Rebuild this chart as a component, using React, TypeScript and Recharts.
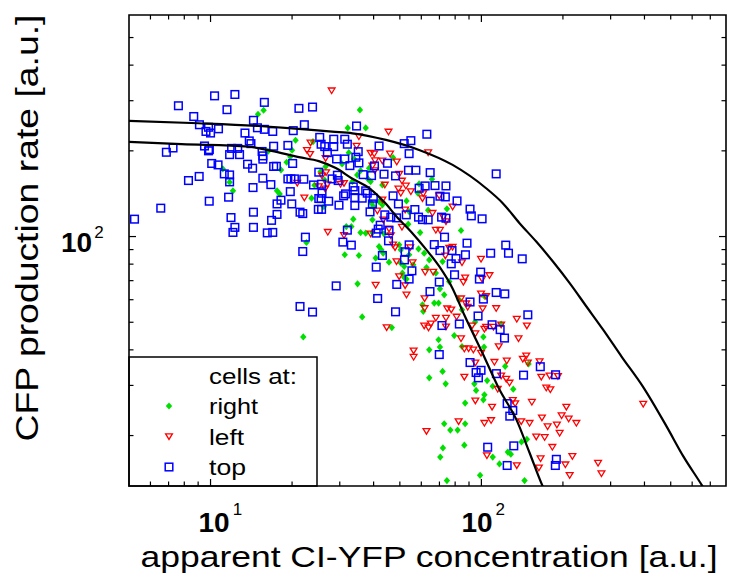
import { ScatterChart, Scatter, XAxis, YAxis, ReferenceArea } from "recharts";

// cells at: right (green diamonds)
const rightX = [14.97, 15.7, 20.6, 20.0, 19.7, 19.1, 18.2, 16.3, 11.1, 11.76, 12.1, 17.6, 18.0, 23.6, 23.9, 25.5, 24.2, 26.4, 35.6, 32.1, 37.4, 32.4, 30.6, 33.9, 34.8, 35.8, 38.5, 47.2, 33.4, 38.2, 39.0, 43.1, 58.9, 58.3, 65.7, 41.9, 43.1, 52.9, 54.1, 63.6, 74.6, 39.3, 39.9, 39.6, 33.65, 33.1, 35.8, 53.7, 59.4, 84.1, 26.6, 37.4, 39.6, 43.7, 41.9, 42.7, 43.4, 49.7, 50.4, 54.1, 58.6, 61.5, 31.3, 35.3, 40.7, 45.6, 50.4, 51.9, 56.0, 64.2, 71.9, 51.1, 51.9, 52.9, 62.7, 67.9, 76.1, 34.9, 70.3, 72.9, 67.0, 69.5, 60.6, 82.9, 61.0, 36.3, 46.7, 84.8, 94.8, 118.3, 102.8, 64.2, 69.5, 70.3, 79.4, 84.8, 101.7, 102.3, 71.9, 64.2, 73.8, 94.2, 95.6, 105, 110.1, 122.4, 149.3, 131.1, 102.6, 101.7, 87.1, 72.9, 76.8, 81.7, 87.1, 86.5, 72.1, 70.5, 110.1, 116.6, 125.2, 128.4, 140.6, 147.2, 98.9, 144.3, 74.6, 22.6, 26.2, 31.7, 22.0];
const rightY = [268.9, 277.7, 217.9, 201, 190.8, 182.4, 171.4, 199.3, 172.8, 155.2, 144.7, 144.7, 141.2, 136.4, 215.4, 169.1, 151.5, 157.7, 278.4, 240.7, 240.7, 197.1, 179.9, 187.3, 164.6, 170.4, 173.8, 189.3, 156, 159, 156, 151.8, 153.1, 142, 159, 132.7, 129.2, 133.4, 122.4, 123.8, 125.1, 131, 127.4, 114.5, 115.1, 108.4, 103.3, 110.5, 103.3, 105, 176.1, 102.8, 103.3, 102.2, 92.2, 89.8, 87.4, 93.5, 89.8, 86.3, 90.5, 87.4, 86.3, 85.8, 84, 81.3, 80.7, 78.5, 79.6, 82.8, 81.7, 74.4, 71.8, 70.9, 77.8, 74.4, 69.5, 68.2, 65.5, 62.4, 58.4, 58.4, 57.6, 59.9, 54.6, 52.2, 47.9, 55.3, 50.1, 49.3, 61.6, 40, 43.4, 40.9, 44.9, 41.1, 44.4, 40.9, 33.6, 31.9, 30.4, 30.4, 28.8, 31.2, 29.8, 35, 35.7, 29.1, 27.8, 26.7, 26, 22, 20.9, 20.9, 22, 18.5, 18.1, 16.8, 16.8, 15.9, 17.5, 17.2, 19, 19.4, 14.5, 13.9, 13.9, 95.3, 127.4, 108.4, 44.4];

// cells at: left (red triangles)
const leftX = [28.0, 45.4, 35.3, 34.6, 39.0, 40.2, 46.0, 48.7, 63.6, 40.5, 43.1, 39.6, 40.4, 49.7, 50.9, 52.6, 44.0, 49.4, 50.4, 54.9, 61.0, 60.6, 69.9, 78.3, 26.7, 25.8, 27.0, 30.2, 31.1, 43.1, 52.3, 41.3, 43.4, 45.6, 50.9, 66.0, 72.3, 74.0, 67.9, 70.3, 27.1, 39.0, 23.4, 22.7, 23.3, 26.6, 20.9, 22.2, 25.1, 26.5, 31.1, 46.3, 48.0, 54.6, 47.2, 76.1, 78.3, 73.6, 84.8, 99.7, 48.6, 55.7, 40.7, 49.7, 52.3, 52.9, 62.0, 66.4, 87.1, 85.8, 100.6, 107.1, 61.7, 61.7, 74.8, 77.4, 84.1, 87.8, 89.0, 99.7, 104.1, 113.4, 101.1, 67.9, 74.0, 63.8, 81.0, 104.1, 110.8, 135.1, 44.7, 74.0, 61.5, 65.1, 92.4, 95.0, 102.6, 118.3, 147.2, 84.1, 86.5, 89.7, 93.4, 99.7, 115.9, 137.1, 56.2, 56.2, 95.0, 111.7, 124.1, 146.4, 142.2, 148.4, 164.0, 118.3, 123.5, 86.5, 127.0, 166.4, 178.6, 191.7, 173.6, 179.7, 114.9, 95.0, 109.5, 130.6, 133.3, 153.6, 205.9, 197.8, 210, 224.2, 167.3, 190, 175.6, 194.5, 82.4, 102.6, 108.6, 140.3, 150.6, 62.7, 159.4, 171.2, 182.8, 216.7, 165.4, 204.2, 163, 135.1, 104.8, 269.6, 277.5, 211.8, 395.8];
const leftY = [325.3, 233, 224.3, 208, 196.2, 195.1, 195.1, 182.9, 197.1, 184.8, 184.4, 177, 170.4, 165.6, 156.8, 150.6, 151.8, 147, 142, 143.8, 141.5, 136, 139, 127.1, 167.7, 163.3, 152.2, 152.7, 153.9, 134.5, 124.1, 123.1, 114.5, 106.4, 107.9, 120.8, 117, 112.9, 105.3, 105.3, 103.6, 102.2, 213.5, 201, 194.6, 188.4, 154.1, 136.7, 149.7, 147, 101, 100.8, 91.5, 91.5, 93.5, 91.1, 91.8, 85.6, 81, 83.3, 81.7, 81, 67.5, 72.4, 67.3, 62.4, 75, 75, 71.6, 69.2, 70.9, 73, 60.6, 55.9, 55.8, 55.3, 60.5, 58.1, 56.5, 62.9, 61.6, 55.9, 55.8, 51.7, 51.7, 47.8, 52.2, 48.1, 48.1, 51.3, 47.9, 48.2, 48.6, 49.4, 48.6, 45.6, 47.3, 49, 48.6, 43.8, 40.3, 40.4, 40, 39, 41.1, 43.8, 39.7, 37.7, 36, 36.2, 36.6, 38.1, 37.1, 36, 36.4, 32.4, 31.6, 32.1, 30.6, 32.1, 32.4, 32.3, 29.4, 29, 29.1, 26.5, 25.2, 26.6, 25.9, 26.2, 25.2, 23.5, 22.9, 22.1, 23.1, 21.8, 21.5, 20.4, 22.4, 22.1, 22.6, 22.4, 22.1, 20.7, 19.8, 19.7, 18.2, 16.9, 16.6, 15.8, 15.4, 15.7, 17, 16, 14.7, 14.5, 25.8];

// cells at: top (blue squares)
const topX = [7.61, 10.35, 12.3, 15.8, 8.67, 11.5, 14.4, 21.2, 23.8, 9.1, 9.83, 10.7, 9.62, 10.0, 13.4, 14.9, 15.8, 16.97, 20.2, 22.2, 25.3, 25.6, 6.87, 7.27, 9.5, 9.9, 9.83, 11.76, 11.96, 12.8, 12.6, 13.9, 14.1, 15.5, 15.6, 15.6, 17.1, 19.3, 10.1, 10.66, 11.24, 11.76, 11.76, 13.7, 14.3, 17.1, 17.5, 20.1, 19.3, 19.8, 20.4, 22.1, 15.6, 16.7, 14.35, 19.7, 24.0, 25.8, 25.1, 25.6, 8.29, 9.08, 9.89, 11.66, 6.55, 5.24, 14.4, 17.6, 18.2, 17.6, 19.95, 21.4, 21.9, 25.0, 25.7, 11.9, 16.8, 12.3, 12.1, 14.4, 16.2, 16.97, 22.4, 21.9, 29.8, 30.8, 31.5, 29.1, 21.4, 23.8, 34.6, 28.5, 31.3, 32.0, 26.4, 28.5, 41.9, 51.9, 54.9, 62.9, 54.1, 35.1, 34.4, 27.0, 29.2, 31.3, 32.7, 35.3, 45.0, 40.3, 43.7, 48.2, 53.8, 57.3, 64.7, 113.4, 25.1, 29.4, 28.1, 36.6, 39.3, 25.7, 29.6, 33.65, 34.1, 37.4, 37.9, 31.0, 34.1, 36.3, 39.9, 47.2, 49.4, 27.3, 34.1, 38.8, 39.6, 44.0, 46.3, 48.6, 52.8, 56.8, 62.0, 58.9, 67.4, 74.0, 70.3, 64.7, 73.6, 81.3, 58.6, 60.6, 63.6, 71.3, 74.0, 90.8, 91.8, 100.6, 42.3, 41.6, 45.6, 32.0, 33.1, 40.9, 45.4, 54.1, 52.3, 52.0, 43.1, 40.9, 55.4, 54.1, 48.7, 41.4, 48.2, 64.6, 67.0, 73.1, 70.3, 77.9, 77.4, 80.6, 79.6, 69.9, 88.5, 87.3, 99.4, 98.3, 108.2, 123.0, 125.9, 113.4, 122.0, 101.7, 90.8, 97.2, 82.9, 109.5, 71.5, 117.3, 121.7, 69.9, 90.8, 95.6, 99.7, 97.5, 113.6, 143.1, 165.0, 187.9, 124.5, 130.6, 127.3, 105.5, 131.7, 124.5, 189.1, 187.5, 141.5, 148.4];
const topY = [288, 312, 315.5, 296, 264, 279, 256, 282, 285, 247, 242, 239, 234, 231, 231, 241, 238, 234, 235.5, 247, 223, 211, 197.7, 204.7, 208, 202, 200, 194, 204, 194, 204, 216.7, 212, 199, 192, 187, 207.6, 209, 180.6, 178.5, 166, 164.6, 155.6, 179.5, 173.8, 176.3, 176.5, 180.6, 159.4, 159.4, 159.4, 159, 160.3, 152.2, 148.6, 143.8, 151.8, 142, 136, 136, 157.3, 162.6, 133.1, 137.5, 125.8, 115.1, 121.8, 130.2, 134.2, 119.6, 130.2, 121.8, 120.4, 124.6, 124.6, 116.6, 114, 107.7, 103.4, 107.7, 103, 103.4, 99.5, 88.6, 128.9, 95.6, 141.2, 67.1, 56.8, 54.3, 244.5, 219.7, 219.7, 211, 207, 207, 208, 212, 217.2, 228.8, 195.5, 198.7, 189.9, 197.1, 187.3, 187.3, 177.5, 181.4, 180.9, 177, 165.6, 163.3, 171, 171, 167.7, 166, 168.3, 164.2, 159.4, 165, 163.7, 152.7, 157.3, 149.4, 145, 144.7, 142, 139, 137, 136.4, 136.4, 139, 130.2, 133.1, 128.5, 122.1, 130.2, 119.2, 117, 116.3, 119.2, 124.4, 150.6, 147.8, 151, 150.6, 138.6, 133.1, 137.8, 133.4, 117, 114.7, 114.5, 117, 116, 124.8, 118.2, 115.4, 109.6, 106.2, 105, 105.3, 93.3, 102.8, 96.6, 93.5, 88.4, 82.8, 85.8, 78.1, 75.8, 70.9, 67.9, 60.6, 54.4, 64.1, 93.7, 99.5, 89.3, 89.3, 80.2, 83.7, 73.4, 69.2, 94.8, 86.3, 75, 70.9, 87.4, 93.3, 87.4, 63.6, 62.9, 60.3, 58.9, 52.6, 49.3, 49, 48.7, 47.1, 44, 38.5, 36.1, 33.3, 33.9, 31.9, 33, 32.6, 34.9, 32.7, 25.9, 24.5, 23.4, 18.2, 18.4, 15.7, 16.5, 15.7, 83.5, 53.1];

// fitted curves
const upperX = [5, 9.03, 15.1, 20.0, 28.1, 33.4, 44.4, 58.9, 78.3, 104.1, 119.9, 138.3, 159.4, 183.7, 211.8, 244.2, 281.4, 329.2, 395.8, 483.2, 556.7, 651.2, 698.9];
const upperY = [254.7, 250, 244.5, 240, 233.5, 230.5, 218.5, 201.5, 178.5, 147.8, 131, 111.4, 96, 81.7, 68.6, 56.8, 47.1, 37.9, 29.6, 21.5, 16.9, 13.4, 12.0];
const lowerX = [5, 7.81, 13.8, 16.8, 21.2, 25.1, 29.0, 33.3, 38.5, 44.5, 48.4, 55.0, 62.6, 69.9, 78.1, 86.5, 100.9, 116.6, 134.8, 150.6, 168.2, 175.6];
const lowerY = [215, 211, 207, 200, 190, 184, 174, 160, 148, 130, 118, 104, 90, 78.5, 66, 53, 39, 29, 22.7, 17.4, 13.3, 12.2];

const xTicks = [6, 7, 8, 9, 10, 20, 30, 40, 50, 60, 70, 80, 90, 100, 200, 300, 400, 500, 600, 700];
const yTicks = [20, 30, 40, 50, 60, 70, 80, 90, 100, 200, 300, 400, 500];
const xTickExp: Record<number, string> = { 10: "1", 100: "2" };
const yTickExp: Record<number, string> = { 100: "2" };

const legendItems = ["right", "left", "top"];

const FONT = "'Liberation Sans', Arial, Helvetica, sans-serif";
const PLOT = { left: 129, right: 726, top: 15, bottom: 486 };

const zip = (xs: number[], ys: number[]) => xs.map((x, i) => ({ x, y: ys[i] }));

const Diamond = ({ cx, cy }: any) => (
  <polygon
    points={`${cx},${cy - 3.6} ${cx + 3.2},${cy} ${cx},${cy + 3.6} ${cx - 3.2},${cy}`}
    fill="#00e000"
  />
);

const Triangle = ({ cx, cy }: any) => (
  <polygon
    points={`${cx - 3.4},${cy - 2.7} ${cx + 3.4},${cy - 2.7} ${cx},${cy + 2.9}`}
    fill="none"
    stroke="#ff0000"
    strokeWidth={1.3}
  />
);

const Square = ({ cx, cy }: any) => (
  <rect x={cx - 3.8} y={cy - 3.8} width={7.6} height={7.6} fill="none" stroke="#0000ff" strokeWidth={1.5} />
);

const NoDot = () => <g />;

const XTick = ({ x, payload }: any) => {
  const v = payload.value;
  const exp = xTickExp[v];
  const len = exp ? 7 : 4.5;
  const shift = v === 10 ? -12 : -20;
  return (
    <g>
      <line x1={x} y1={PLOT.bottom} x2={x} y2={PLOT.bottom - len} stroke="#000" strokeWidth={1.2} />
      <line x1={x} y1={PLOT.top} x2={x} y2={PLOT.top + len} stroke="#000" strokeWidth={1.2} />
      {exp && (
        <text x={x + shift} y={532} fontFamily={FONT} fontSize={28} fontWeight="bold" fill="#000">
          10
          <tspan dx={3} dy={-17} fontSize={17} fontWeight="normal">
            {exp}
          </tspan>
        </text>
      )}
    </g>
  );
};

const YTick = ({ y, payload }: any) => {
  const v = payload.value;
  const exp = yTickExp[v];
  const len = exp ? 7 : 4.5;
  return (
    <g>
      <line x1={PLOT.left} y1={y} x2={PLOT.left + len} y2={y} stroke="#000" strokeWidth={1.2} />
      <line x1={PLOT.right} y1={y} x2={PLOT.right - len} y2={y} stroke="#000" strokeWidth={1.2} />
      {exp && (
        <text x={61} y={y + 15} fontFamily={FONT} fontSize={28} fontWeight="bold" fill="#000">
          10
          <tspan dx={2} dy={-14} fontSize={17} fontWeight="normal">
            {exp}
          </tspan>
        </text>
      )}
    </g>
  );
};

const legendMarkers = [Diamond, Triangle, Square];

export default function App() {
  return (
    <div style={{ position: "absolute", left: 0, top: 0, background: "#fff" }}>
      <ScatterChart width={729} height={583} margin={{ top: 15, right: 3, bottom: 37, left: 69 }}>
        <XAxis
          type="number"
          dataKey="x"
          scale="log"
          domain={[5, 800]}
          ticks={xTicks}
          interval={0}
          allowDataOverflow
          axisLine={false}
          tickLine={false}
          tick={<XTick />}
          height={60}
        />
        <YAxis
          type="number"
          dataKey="y"
          scale="log"
          domain={[13.3, 600]}
          ticks={yTicks}
          interval={0}
          allowDataOverflow
          axisLine={false}
          tickLine={false}
          tick={<YTick />}
          width={60}
        />
        <Scatter name="right" data={zip(rightX, rightY)} shape={<Diamond />} isAnimationActive={false} />
        <Scatter name="left" data={zip(leftX, leftY)} shape={<Triangle />} isAnimationActive={false} />
        <Scatter name="top" data={zip(topX, topY)} shape={<Square />} isAnimationActive={false} />
        <Scatter
          name="fit1"
          data={zip(upperX, upperY)}
          line={{ stroke: "#000", strokeWidth: 2.2 }}
          lineJointType="monotoneX"
          shape={<NoDot />}
          isAnimationActive={false}
        />
        <Scatter
          name="fit2"
          data={zip(lowerX, lowerY)}
          line={{ stroke: "#000", strokeWidth: 2.2 }}
          lineJointType="monotoneX"
          shape={<NoDot />}
          isAnimationActive={false}
        />
        <ReferenceArea
          x1={5}
          x2={800}
          y1={13.3}
          y2={600}
          fill="none"
          fillOpacity={0}
          stroke="#000"
          strokeWidth={1.6}
          ifOverflow="visible"
        />
        <g>
          <rect x={129} y={357} width={188} height={129} fill="#fff" stroke="#000" strokeWidth={1.5} />
          <text x={209} y={384} fontFamily={FONT} fontSize={22} textLength={88} lengthAdjust="spacingAndGlyphs">
            cells at:
          </text>
          {legendItems.map((name, i) => {
            const M = legendMarkers[i];
            const cy = 406 + i * 30.5;
            return (
              <g key={name}>
                <M cx={169} cy={cy} />
                <text
                  x={209}
                  y={cy + 8}
                  fontFamily={FONT}
                  fontSize={22}
                  textLength={[49, 35, 37][i]}
                  lengthAdjust="spacingAndGlyphs"
                >
                  {name}
                </text>
              </g>
            );
          })}
        </g>
        <text
          x={429}
          y={567}
          textAnchor="middle"
          fontFamily={FONT}
          fontSize={30}
          textLength={577}
          lengthAdjust="spacingAndGlyphs"
        >
          apparent CI-YFP concentration [a.u.]
        </text>
        <text
          transform="rotate(-90)"
          x={-228}
          y={38}
          textAnchor="middle"
          fontFamily={FONT}
          fontSize={31}
          textLength={427}
          lengthAdjust="spacingAndGlyphs"
        >
          CFP production rate [a.u.]
        </text>
      </ScatterChart>
    </div>
  );
}
